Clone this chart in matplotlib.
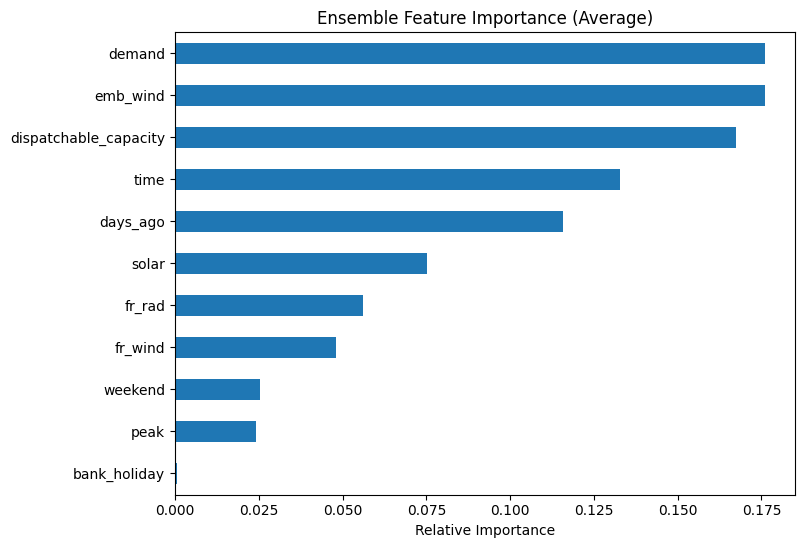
import matplotlib
matplotlib.use("Agg")
import matplotlib.pyplot as plt

# ── Data (bottom to top) ──────────────────────────────────────────────────────
features = ['bank_holiday', 'peak', 'weekend', 'fr_wind', 'fr_rad', 'solar',
            'days_ago', 'time', 'dispatchable_capacity', 'emb_wind', 'demand']
importance = [0.0007, 0.0241, 0.0253, 0.0480, 0.0561, 0.0752,
              0.1159, 0.1327, 0.1673, 0.1760, 0.1762]

fig = plt.figure(figsize=(8.04, 5.47), dpi=100)
ax = fig.add_axes([175 / 804, 1 - 494.5 / 547, 620 / 804, (494.5 - 32.3) / 547])

pos = range(len(features))
ax.barh(pos, importance, height=0.5, color='#1f77b4')
ax.set_yticks(list(pos))
ax.set_yticklabels(features)
ax.set_ylim(-0.5, len(features) - 0.5)
ax.set_xlim(0, max(importance) * 1.05)
ax.set_xticks([0, 0.025, 0.05, 0.075, 0.1, 0.125, 0.15, 0.175])
ax.set_xticklabels([f'{v:.3f}' for v in ax.get_xticks()])
ax.set_xlabel('Relative Importance')
ax.set_title('Ensemble Feature Importance (Average)')

fig.savefig('out.png', dpi=100)
